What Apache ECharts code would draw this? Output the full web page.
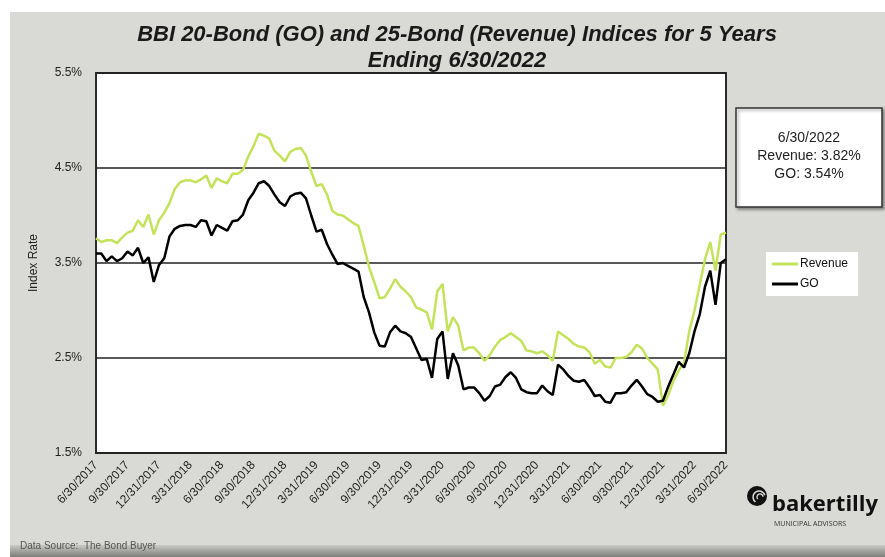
<!DOCTYPE html>
<html>
<head>
<meta charset="utf-8">
<script src="https://cdn.jsdelivr.net/npm/echarts@6/dist/echarts.min.js"></script>
<style>
  html, body { margin: 0; padding: 0; background: #fff; }
  #chart { width: 885px; height: 557px; }
</style>
</head>
<body>
<div id="chart"></div>
<script>
// quarter-end tick labels
const quarterLabels = [
  "6/30/2017", "9/30/2017", "12/31/2017", "3/31/2018", "6/30/2018", "9/30/2018",
  "12/31/2018", "3/31/2019", "6/30/2019", "9/30/2019", "12/31/2019", "3/31/2020",
  "6/30/2020", "9/30/2020", "12/31/2020", "3/31/2021", "6/30/2021", "9/30/2021",
  "12/31/2021", "3/31/2022", "6/30/2022"
];
const stepsPerQuarter = 6; // readings roughly every half month

// BBI 25-Bond Revenue index (%)
const revenue = [
  3.76, 3.72, 3.74, 3.74, 3.71, 3.77, 3.82, 3.84, 3.95, 3.88,
  4.01, 3.80, 3.95, 4.03, 4.13, 4.28, 4.35, 4.37, 4.37, 4.35,
  4.38, 4.42, 4.29, 4.39, 4.36, 4.34, 4.44, 4.44, 4.48, 4.62,
  4.73, 4.86, 4.84, 4.81, 4.68, 4.63, 4.57, 4.67, 4.70, 4.71,
  4.63, 4.46, 4.31, 4.33, 4.22, 4.05, 4.01, 4.00, 3.96, 3.92,
  3.89, 3.68, 3.46, 3.30, 3.13, 3.14, 3.23, 3.33, 3.25, 3.20,
  3.14, 3.03, 3.01, 2.98, 2.80, 3.20, 3.28, 2.78, 2.93, 2.84,
  2.58, 2.61, 2.61, 2.55, 2.47, 2.53, 2.62, 2.69, 2.72, 2.76,
  2.72, 2.68, 2.58, 2.57, 2.55, 2.57, 2.53, 2.47, 2.78, 2.74,
  2.70, 2.65, 2.62, 2.61, 2.56, 2.44, 2.48, 2.41, 2.40, 2.50,
  2.50, 2.51, 2.56, 2.64, 2.60, 2.50, 2.44, 2.38, 2.00, 2.11,
  2.26, 2.37, 2.45, 2.78, 3.00, 3.27, 3.54, 3.72, 3.42, 3.80,
  3.82
];

// BBI 20-Bond GO index (%)
const go = [
  3.60, 3.60, 3.52, 3.57, 3.52, 3.55, 3.62, 3.58, 3.66, 3.50,
  3.56, 3.30, 3.48, 3.55, 3.78, 3.86, 3.89, 3.90, 3.90, 3.88,
  3.95, 3.94, 3.79, 3.90, 3.87, 3.84, 3.94, 3.95, 4.01, 4.16,
  4.24, 4.34, 4.36, 4.31, 4.22, 4.14, 4.10, 4.20, 4.23, 4.24,
  4.18, 4.00, 3.83, 3.85, 3.70, 3.59, 3.49, 3.50, 3.47, 3.44,
  3.41, 3.14, 2.98, 2.77, 2.63, 2.62, 2.77, 2.84, 2.78, 2.76,
  2.72, 2.60, 2.48, 2.49, 2.29, 2.70, 2.78, 2.28, 2.55, 2.42,
  2.17, 2.19, 2.19, 2.13, 2.05, 2.10, 2.20, 2.22, 2.30, 2.35,
  2.29, 2.17, 2.14, 2.13, 2.13, 2.21, 2.15, 2.11, 2.43, 2.38,
  2.31, 2.26, 2.25, 2.27, 2.19, 2.10, 2.11, 2.04, 2.03, 2.13,
  2.13, 2.14, 2.21, 2.27, 2.20, 2.12, 2.09, 2.04, 2.05, 2.20,
  2.33, 2.46, 2.40, 2.55, 2.78, 2.96, 3.25, 3.42, 3.06, 3.50,
  3.54
];

const yTicks = [1.5, 2.5, 3.5, 4.5, 5.5];

const toPairs = arr => arr.map((v, i) => [i, v]);
const lastDate = quarterLabels[quarterLabels.length - 1];
const boxText = lastDate + "\nRevenue: " + revenue[revenue.length - 1].toFixed(2) +
  "%\nGO: " + go[go.length - 1].toFixed(2) + "%";

const chart = echarts.init(document.getElementById("chart"));

chart.setOption({
  backgroundColor: "#ffffff",
  animation: false,
  textStyle: { fontFamily: "Arial, 'Liberation Sans', sans-serif" },
  title: {
    text: "BBI 20-Bond (GO) and 25-Bond (Revenue) Indices for 5 Years\nEnding 6/30/2022",
    left: 452,
    textAlign: "center",
    top: 17,
    textStyle: {
      fontSize: 22,
      fontWeight: "bold",
      fontStyle: "italic",
      color: "#1a1a1a",
      lineHeight: 26
    }
  },
  grid: {
    left: 96,
    right: 159,
    top: 73,
    bottom: 104,
    show: true,
    backgroundColor: "#ffffff",
    borderColor: "#2b2b2b",
    borderWidth: 2
  },
  legend: {
    data: ["Revenue", "GO"],
    orient: "vertical",
    left: 766,
    top: 252,
    backgroundColor: "#ffffff",
    padding: [6, 10, 6, 6],
    itemGap: 8,
    itemWidth: 26,
    itemHeight: 3,
    icon: "rect",
    textStyle: { fontSize: 12, color: "#111", padding: [0, 0, 0, -3] }
  },
  xAxis: {
    type: "value",
    min: 0,
    max: (quarterLabels.length - 1) * stepsPerQuarter,
    interval: stepsPerQuarter,
    axisLine: { show: false },
    axisTick: { show: false },
    splitLine: { show: false },
    axisLabel: {
      rotate: 47,
      fontSize: 12,
      color: "#222",
      margin: 10,
      formatter: v => quarterLabels[Math.round(v / stepsPerQuarter)] || ""
    }
  },
  yAxis: {
    type: "value",
    min: yTicks[0],
    max: yTicks[yTicks.length - 1],
    interval: 1,
    name: "Index Rate",
    nameLocation: "middle",
    nameGap: 56,
    nameTextStyle: { fontSize: 12, color: "#222" },
    axisLine: { show: false },
    axisTick: { show: false },
    axisLabel: {
      fontSize: 12,
      color: "#222",
      margin: 14,
      formatter: v => v.toFixed(1) + "%"
    },
    splitLine: { lineStyle: { color: "#222", width: 1.5 } }
  },
  series: [
    {
      name: "Revenue",
      type: "line",
      data: toPairs(revenue),
      showSymbol: false,
      color: "#c4e35a",
      lineStyle: { width: 2.5, color: "#c4e35a" },
      z: 2
    },
    {
      name: "GO",
      type: "line",
      data: toPairs(go),
      showSymbol: false,
      color: "#000000",
      lineStyle: { width: 2.5, color: "#000000" },
      z: 3
    }
  ],
  graphic: [
    // gray panel behind everything
    {
      type: "rect",
      z: -10,
      shape: { x: 10, y: 12, width: 875, height: 535 },
      style: { fill: "#d9d9d5" }
    },
    {
      type: "rect",
      z: -9,
      shape: { x: 10, y: 545, width: 875, height: 12 },
      style: {
        fill: new echarts.graphic.LinearGradient(0, 0, 0, 1, [
          { offset: 0, color: "#c9c9c5" },
          { offset: 1, color: "#7d7d79" }
        ])
      }
    },
    // latest-value box
    {
      type: "rect",
      shape: { x: 736, y: 108, width: 146, height: 99 },
      style: {
        fill: "#ffffff",
        stroke: "#333",
        lineWidth: 1.5,
        shadowBlur: 3,
        shadowOffsetX: 2,
        shadowOffsetY: 2,
        shadowColor: "rgba(0,0,0,0.35)"
      }
    },
    {
      type: "text",
      x: 809,
      y: 129,
      style: {
        text: boxText,
        fill: "#222",
        font: "14px Arial, 'Liberation Sans', sans-serif",
        align: "center",
        lineHeight: 18
      }
    },
    // source note
    {
      type: "text",
      x: 20,
      y: 541,
      style: {
        text: "Data Source:  The Bond Buyer",
        fill: "#555",
        font: "10px Arial, 'Liberation Sans', sans-serif"
      }
    },
    // logo
    {
      type: "circle",
      shape: { cx: 757, cy: 496, r: 10 },
      style: { fill: "#111" }
    },
    {
      type: "arc",
      shape: { cx: 759, cy: 497, r: 6, startAngle: 2.2, endAngle: 6.0 },
      style: { stroke: "#d9d9d5", lineWidth: 1.6, fill: null }
    },
    {
      type: "arc",
      shape: { cx: 760, cy: 497, r: 3, startAngle: 2.4, endAngle: 6.2 },
      style: { stroke: "#d9d9d5", lineWidth: 1.4, fill: null }
    },
    {
      type: "text",
      x: 772,
      y: 494,
      style: {
        text: "bakertilly",
        fill: "#111",
        font: "bold 22px 'Open Sans', Arial, sans-serif"
      }
    },
    {
      type: "text",
      x: 774,
      y: 520,
      style: {
        text: "MUNICIPAL ADVISORS",
        fill: "#333",
        font: "7px 'Open Sans', Arial, sans-serif"
      }
    }
  ]
});
</script>
</body>
</html>
